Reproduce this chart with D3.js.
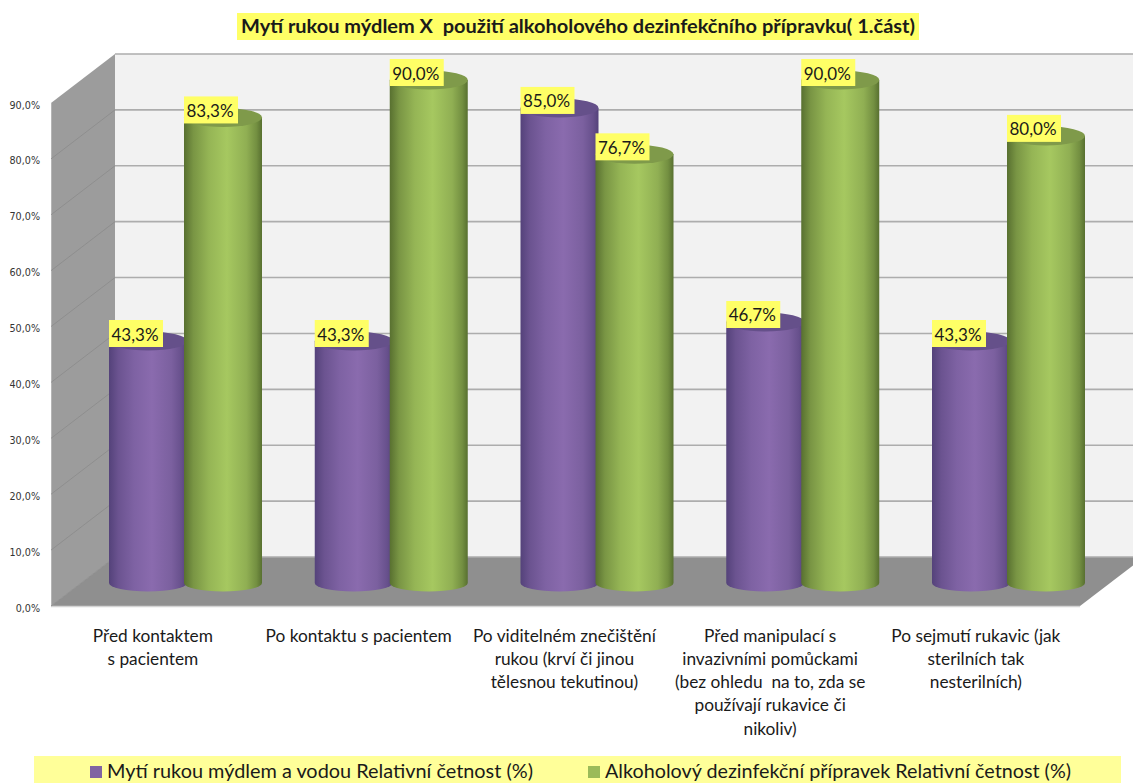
<!DOCTYPE html>
<html lang="cs">
<head>
<meta charset="utf-8">
<title>Mytí rukou mýdlem X použití alkoholového dezinfekčního přípravku</title>
<script src="https://cdn.jsdelivr.net/npm/d3@7"></script>
<style>
  html, body { margin: 0; padding: 0; background: #fff; }
  svg { display: block; }
  text { font-family: Lato, "Open Sans", sans-serif; fill: #1a1a1a; }
  .axis text { font-family: "DejaVu Sans", sans-serif; font-size: 9.6px; fill: #333; }
  .axis path, .axis line { display: none; }
</style>
</head>
<body>
<svg id="chart" width="1133" height="783"></svg>
<script>
// Hand hygiene survey: relative frequency per situation and method
const chartTitle = "Mytí rukou mýdlem X  použití alkoholového dezinfekčního přípravku( 1.část)";
const categories = ["c1", "c2", "c3", "c4", "c5"];
const categoryLines = [
  ["Před kontaktem", "s pacientem"],
  ["Po kontaktu s pacientem"],
  ["Po viditelném znečištění", "rukou (krví či jinou", "tělesnou tekutinou)"],
  ["Před manipulací s", "invazivními pomůckami", "(bez ohledu  na to, zda se", "používají rukavice či", "nikoliv)"],
  ["Po sejmutí rukavic (jak", "sterilních tak", "nesterilních)"]
];
const seriesNames = [
  "Mytí rukou mýdlem a vodou Relativní četnost (%)",
  "Alkoholový dezinfekční přípravek Relativní četnost (%)"
];
const soapValues = [43.3, 43.3, 85.0, 46.7, 43.3];
const alcoholValues = [83.3, 90.0, 76.7, 90.0, 80.0];
const tickValues = [0, 10, 20, 30, 40, 50, 60, 70, 80, 90];

const seriesValues = [soapValues, alcoholValues];
const palette = [
  { edge: "#54427a", mid: "#8a6bae", top: "#65508a", key: "#8064a2" },
  { edge: "#587030", mid: "#a6c860", top: "#7f9a4a", key: "#9bbb59" }
];

const svg = d3.select("#chart");
const pct = d3.formatLocale({ decimal: ",", thousands: " ", grouping: [3], currency: ["", ""] }).format(".1f");
const fmt = v => pct(v) + "%";

// Depth of the 3D box: back plane is shifted right and up from the front plane
const depth = { dx: 64, dy: -49 };
const yFront = d3.scaleLinear().domain([0, 90]).range([606, 103]);
const frontLeft = 51, frontRight = 1080;

// Cylinders stand midway through the box depth
const baseY = 583;
const yBar = d3.scaleLinear().domain([0, 90]).range([baseY, baseY - 503]);
const x0 = d3.scaleBand().domain(categories).range([109, 109 + 5 * 205.75]);
const x1 = d3.scaleBand().domain([0, 1]).range([0, 150]);
const barW = 78, rx = barW / 2, ryBase = 8.5, ryTop = 9.5;

const defs = svg.append("defs");
palette.forEach((p, i) => {
  const g = defs.append("linearGradient").attr("id", "cyl" + i);
  const mix = d3.interpolateRgb(p.edge, p.mid);
  [[0, p.edge], [0.12, mix(0.42)], [0.32, mix(0.78)], [0.55, p.mid],
   [0.8, mix(0.72)], [0.93, mix(0.35)], [1, p.edge]]
    .forEach(([o, c]) => g.append("stop").attr("offset", o).attr("stop-color", c));
});

const box = svg.append("g");
const poly = pts => pts.map(d => d.join(",")).join(" ");
const y0 = yFront(0), yTop = yFront(90);

// Back wall
box.append("polygon")
  .attr("points", poly([[frontLeft + depth.dx, yTop + depth.dy], [1140, yTop + depth.dy], [1140, y0 + depth.dy], [frontLeft + depth.dx, y0 + depth.dy]]))
  .attr("fill", "#f2f2f2");
// Left wall
box.append("polygon")
  .attr("points", poly([[frontLeft, yTop], [frontLeft + depth.dx, yTop + depth.dy], [frontLeft + depth.dx, y0 + depth.dy], [frontLeft, y0]]))
  .attr("fill", "#9c9c9c");
// Floor
box.append("polygon")
  .attr("points", poly([[frontLeft, y0], [frontRight, y0], [frontRight + depth.dx, y0 + depth.dy], [frontLeft + depth.dx, y0 + depth.dy]]))
  .attr("fill", "#8f8f8f");
box.append("line")
  .attr("x1", frontLeft).attr("x2", frontRight).attr("y1", y0 + 0.5).attr("y2", y0 + 0.5)
  .attr("stroke", "#d4d4d4").attr("stroke-width", 1.5);
box.append("line")
  .attr("x1", frontLeft + 0.5).attr("x2", frontLeft + 0.5).attr("y1", yTop).attr("y2", y0)
  .attr("stroke", "#b5b5b5");

// Gridlines on the back wall and their continuation over the left wall
const grid = box.append("g");
tickValues.forEach(t => {
  const yf = yFront(t);
  grid.append("line")
    .attr("x1", frontLeft + depth.dx).attr("x2", 1140)
    .attr("y1", yf + depth.dy).attr("y2", yf + depth.dy)
    .attr("stroke", "#adadad").attr("stroke-width", 1.6);
  if (t < 90) {
    grid.append("line")
      .attr("x1", frontLeft).attr("y1", yf)
      .attr("x2", frontLeft + depth.dx).attr("y2", yf + depth.dy)
      .attr("stroke", "#8a8a8a").attr("stroke-width", 0.8);
  }
});

// Value axis
svg.append("g").attr("class", "axis")
  .attr("transform", `translate(${frontLeft - 6},2)`)
  .call(d3.axisLeft(yFront).tickValues(tickValues).tickSize(0).tickPadding(5).tickFormat(fmt));

// Cylinders
const cylinders = svg.append("g");
categories.forEach((c, ci) => {
  [0, 1].forEach(si => {
    const v = seriesValues[si][ci];
    const left = x0(c) + x1(si), right = left + barW, cx = left + rx;
    const top = yBar(v);
    const g = cylinders.append("g");
    g.append("path")
      .attr("d", `M${left},${top}L${left},${baseY}A${rx},${ryBase} 0 0 0 ${right},${baseY}L${right},${top}Z`)
      .attr("fill", `url(#cyl${si})`);
    g.append("ellipse")
      .attr("cx", cx).attr("cy", top).attr("rx", rx).attr("ry", ryTop)
      .attr("fill", palette[si].top);
  });
});

// Data labels are stacked above every cylinder, on yellow tags
const labels = svg.append("g");
categories.forEach((c, ci) => {
  [0, 1].forEach(si => {
    const v = seriesValues[si][ci];
    const left = x0(c) + x1(si), top = yBar(v);
    labels.append("rect")
      .attr("x", left).attr("y", top - 21).attr("width", 54).attr("height", 27)
      .attr("fill", "#ffff66");
    labels.append("text")
      .attr("x", left + 26).attr("y", top - 0.5)
      .attr("text-anchor", "middle").attr("font-size", 17.5)
      .attr("textLength", 47).attr("lengthAdjust", "spacingAndGlyphs")
      .text(fmt(v));
  });
});

// Category labels
const catLabels = svg.append("g");
categories.forEach((c, ci) => {
  const cx = x0(c) + x0.bandwidth() / 2 - 59;
  categoryLines[ci].forEach((line, li) => {
    catLabels.append("text")
      .attr("x", cx).attr("y", 641.5 + li * 23.3)
      .attr("text-anchor", "middle").attr("font-size", 17.3)
      .style("white-space", "pre")
      .text(line);
  });
});

// Title on its highlight
const title = svg.append("g");
title.append("rect").attr("x", 237).attr("y", 13).attr("width", 682).attr("height", 27).attr("fill", "#ffff66");
title.append("text")
  .attr("x", 578).attr("y", 33)
  .attr("text-anchor", "middle").attr("font-size", 18.5).attr("font-weight", 700)
  .attr("textLength", 674).attr("lengthAdjust", "spacingAndGlyphs")
  .style("white-space", "pre")
  .text(chartTitle);

// Legend band
const legend = svg.append("g");
legend.append("rect").attr("x", 34).attr("y", 756).attr("width", 1087).attr("height", 27).attr("fill", "#ffff99");
const legendX = [90, 588], legendW = [426, 466];
seriesNames.forEach((name, i) => {
  legend.append("rect")
    .attr("x", legendX[i]).attr("y", 766).attr("width", 12).attr("height", 12)
    .attr("fill", palette[i].key);
  legend.append("text")
    .attr("x", legendX[i] + 17).attr("y", 778)
    .attr("font-size", 19.5)
    .attr("textLength", legendW[i]).attr("lengthAdjust", "spacingAndGlyphs")
    .text(name);
});
</script>
</body>
</html>
